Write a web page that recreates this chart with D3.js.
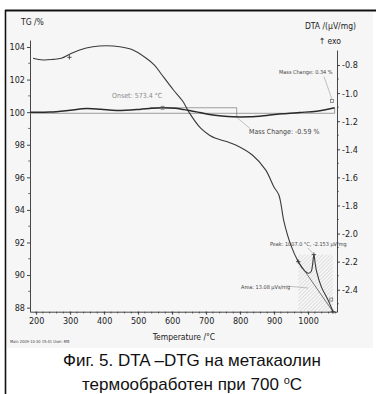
<!DOCTYPE html>
<html>
<head>
<meta charset="utf-8">
<script src="https://cdn.jsdelivr.net/npm/d3@7"></script>
<style>
  html, body { margin: 0; padding: 0; background: #fff; }
  svg { display: block; }
  .axis text { font-family: "Liberation Sans Narrow", "DejaVu Sans Condensed", sans-serif; font-size: 9px; fill: #222; }
  .axis path, .axis line { stroke: #333; stroke-width: 0.9; }
  .note { font-family: "Liberation Sans Narrow", "DejaVu Sans Condensed", sans-serif; font-size: 6.5px; fill: #444; }
  .title { font-family: "Liberation Sans Narrow", "DejaVu Sans Condensed", sans-serif; font-size: 8.5px; fill: #222; }
  .caption { font-family: "Liberation Sans", Arial, sans-serif; font-size: 17px; fill: #111; }
</style>
</head>
<body>
<div id="chart"></div>
<script>
// tick values
var tempTicks = [200, 300, 400, 500, 600, 700, 800, 900, 1000];
var tgTicks = [88, 90, 92, 94, 96, 98, 100, 102, 104];
var dtaTicks = [-0.8, -1.0, -1.2, -1.4, -1.6, -1.8, -2.0, -2.2, -2.4];

// DTA curve (right axis)
var dtaTemp = [191, 220, 250, 274, 300, 328, 367, 406, 446, 485, 524, 548, 568, 604, 632, 648, 684, 710, 728, 760, 787, 836, 875, 899, 914, 929, 949, 971, 986, 1001, 1009, 1013, 1017, 1021, 1025, 1039, 1058, 1073];
var dtaValue = [-0.752, -0.764, -0.760, -0.752, -0.722, -0.693, -0.670, -0.663, -0.670, -0.693, -0.752, -0.80, -0.864, -0.978, -1.06, -1.13, -1.25, -1.30, -1.322, -1.345, -1.369, -1.441, -1.547, -1.666, -1.725, -1.915, -2.081, -2.200, -2.255, -2.283, -2.27, -2.225, -2.150, -2.215, -2.270, -2.380, -2.470, -2.556];

// TG curve (left axis)
var tgTemp = [182, 240, 300, 349, 390, 437, 504, 540, 572, 610, 631, 651, 681, 710, 746, 778, 828, 878, 925, 975, 1025, 1078];
var tgValue = [100.00, 100.01, 100.12, 100.23, 100.18, 100.10, 100.17, 100.24, 100.27, 100.24, 100.17, 100.10, 99.98, 99.86, 99.77, 99.72, 99.72, 99.80, 99.90, 99.98, 100.06, 100.27];

// evaluation marks
var peakPoints = [[971, -2.200], [1017, -2.150], [1073, -2.556]];
var massLevels = [100.27, 99.93, 99.68];

var width = 376, height = 394;
var svg = d3.select("#chart").append("svg")
    .attr("width", width)
    .attr("height", height);

var defs = svg.append("defs");
var hatch = defs.append("pattern")
    .attr("id", "hatch")
    .attr("patternUnits", "userSpaceOnUse")
    .attr("width", 2.6)
    .attr("height", 2.6)
    .attr("patternTransform", "rotate(45)");
hatch.append("line")
    .attr("x1", 0).attr("y1", 0).attr("x2", 0).attr("y2", 2.6)
    .attr("stroke", "#aaa").attr("stroke-width", 0.6);

// scanned picture background + frame
svg.append("rect").attr("x", 7).attr("y", 12).attr("width", 366).attr("height", 336).attr("fill", "#f6f6f6");
svg.append("line").attr("x1", 5).attr("y1", 10.5).attr("x2", 376).attr("y2", 10.5).attr("stroke", "#111").attr("stroke-width", 1.8);
svg.append("line").attr("x1", 5.5).attr("y1", 10).attr("x2", 5.5).attr("y2", 394).attr("stroke", "#111").attr("stroke-width", 1.6);

var x = d3.scaleLinear().domain([182, 1085]).range([30, 337]);
var yTG = d3.scaleLinear().domain([104.43, 87.75]).range([40, 311.7]);
var yDTA = d3.scaleLinear().domain([-0.693, -2.5565]).range([50, 311.7]);

// minor ticks
var minor = svg.append("g").attr("stroke", "#333").attr("stroke-width", 0.7);
minor.selectAll(".mx").data(d3.range(200, 1081, 20)).enter().append("line")
    .attr("x1", function(d) { return x(d); }).attr("x2", function(d) { return x(d); })
    .attr("y1", 311.7).attr("y2", 313.5);
minor.selectAll(".ml").data(d3.range(89, 104, 2)).enter().append("line")
    .attr("x1", 28.2).attr("x2", 30)
    .attr("y1", function(d) { return yTG(d); }).attr("y2", function(d) { return yTG(d); });
minor.selectAll(".mr").data(d3.range(-0.9, -2.6, -0.2)).enter().append("line")
    .attr("x1", 337).attr("x2", 338.8)
    .attr("y1", function(d) { return yDTA(d); }).attr("y2", function(d) { return yDTA(d); });

svg.append("g").attr("class", "axis")
    .attr("transform", "translate(0,311.7)")
    .call(d3.axisBottom(x).tickValues(tempTicks).tickSize(3).tickSizeOuter(0).tickPadding(3)
        .tickFormat(d3.format("d")));
svg.append("g").attr("class", "axis")
    .attr("transform", "translate(30,0)")
    .call(d3.axisLeft(yTG).tickValues(tgTicks).tickSize(3).tickSizeOuter(0).tickPadding(2));
svg.append("g").attr("class", "axis")
    .attr("transform", "translate(337,0)")
    .call(d3.axisRight(yDTA).tickValues(dtaTicks).tickSize(3).tickSizeOuter(0).tickPadding(2)
        .tickFormat(function(d) { return d.toFixed(1); }));

svg.append("text").attr("class", "title").attr("x", 21).attr("y", 25).text("TG /%");
svg.append("text").attr("class", "title").attr("x", 356).attr("y", 29).attr("text-anchor", "end").text("DTA /(μV/mg)");
svg.append("text").attr("class", "title").attr("x", 341).attr("y", 44).attr("text-anchor", "end").text("↑ exo");
svg.append("text").attr("class", "title").attr("x", 184).attr("y", 340).attr("text-anchor", "middle").text("Temperature /°C");
svg.append("text").attr("class", "note").attr("x", 10).attr("y", 343).style("font-size", "4px").text("Main 2009-10-30 15:41  User: MB");

// mass change step lines
var ref = svg.append("g").attr("stroke", "#777").attr("stroke-width", 0.7).attr("fill", "none");
ref.append("line").attr("x1", x(182)).attr("x2", x(1078)).attr("y1", yTG(massLevels[1])).attr("y2", yTG(massLevels[1]));
ref.append("line").attr("x1", x(534)).attr("x2", x(790)).attr("y1", yTG(massLevels[0])).attr("y2", yTG(massLevels[0]));
ref.append("line").attr("x1", x(790)).attr("x2", x(790)).attr("y1", yTG(massLevels[0])).attr("y2", yTG(massLevels[2]));
ref.append("line").attr("x1", x(1078)).attr("x2", x(1078)).attr("y1", yTG(massLevels[1])).attr("y2", yTG(massLevels[0]));

// peak area
var p0 = peakPoints[0], p1 = peakPoints[1], p2 = peakPoints[2];
svg.append("rect")
    .attr("x", x(p0[0])).attr("y", yDTA(p1[1]))
    .attr("width", x(p2[0]) - x(p0[0])).attr("height", 311.7 - yDTA(p1[1]))
    .attr("fill", "url(#hatch)");
svg.append("line")
    .attr("x1", x(p0[0])).attr("y1", yDTA(p0[1])).attr("x2", x(p2[0])).attr("y2", yDTA(p2[1]))
    .attr("stroke", "#555").attr("stroke-width", 0.8);

// curves
var dtaLine = d3.line()
    .x(function(d, i) { return x(dtaTemp[i]); })
    .y(function(d, i) { return yDTA(dtaValue[i]); })
    .curve(d3.curveCatmullRom.alpha(0.5));
svg.append("path").datum(dtaTemp).attr("d", dtaLine)
    .attr("fill", "none").attr("stroke", "#3a3a3a").attr("stroke-width", 1.1);

var tgLine = d3.line()
    .x(function(d, i) { return x(tgTemp[i]); })
    .y(function(d, i) { return yTG(tgValue[i]); })
    .curve(d3.curveCatmullRom.alpha(0.5));
svg.append("path").datum(tgTemp).attr("d", tgLine)
    .attr("fill", "none").attr("stroke", "#2a2a2a").attr("stroke-width", 1.5);

// markers
var marks = svg.append("g").attr("stroke", "#333").attr("stroke-width", 0.8);
peakPoints.concat([[298, -0.745]]).forEach(function(p) {
    var cx = x(p[0]), cy = yDTA(p[1]);
    marks.append("path").attr("d", "M" + (cx - 2.2) + "," + cy + "H" + (cx + 2.2) + "M" + cx + "," + (cy - 2.2) + "V" + (cy + 2.2));
});
[[572, 100.27, yTG], [1068, -2.47, yDTA]].forEach(function(p) {
    marks.append("rect").attr("x", x(p[0]) - 1.5).attr("y", p[2](p[1]) - 1.5)
        .attr("width", 3).attr("height", 3).attr("fill", "none").attr("stroke", "#777");
});
marks.append("rect").attr("x", x(1070) - 1.5).attr("y", yTG(100.68) - 1.5)
    .attr("width", 3).attr("height", 3).attr("fill", "none").attr("stroke", "#777");

// annotations
var lead = svg.append("g").attr("stroke", "#888").attr("stroke-width", 0.5);
lead.append("line").attr("x1", x(790)).attr("y1", yTG(99.68)).attr("x2", 250).attr("y2", 128.5);
lead.append("line").attr("x1", 324).attr("y1", 76.5).attr("x2", x(1070)).attr("y2", yTG(100.68) - 2);
lead.append("line").attr("x1", 308).attr("y1", 248).attr("x2", x(p1[0])).attr("y2", yDTA(p1[1]));
lead.append("line").attr("x1", 286).attr("y1", 286).attr("x2", 308).attr("y2", 288);

svg.append("text").attr("class", "note").attr("x", 112).attr("y", 97.5).style("fill", "#8a8a8a").style("font-size", "7px").text("Onset: 573.4 °C");
svg.append("text").attr("class", "note").attr("x", 249).attr("y", 133.5).style("font-size", "7px").text("Mass Change: -0.59 %");
svg.append("text").attr("class", "note").attr("x", 279).attr("y", 73.5).style("font-size", "5.5px").text("Mass Change: 0.34 %");
svg.append("text").attr("class", "note").attr("x", 270).attr("y", 246).style("font-size", "5.5px").text("Peak: 1007.0 °C, -2.153 μV/mg");
svg.append("text").attr("class", "note").attr("x", 241).attr("y", 288.5).style("font-size", "5.5px").text("Area: 13.08 μVs/mg");

// caption
svg.append("text").attr("class", "caption")
    .attr("x", 192).attr("y", 366).attr("text-anchor", "middle")
    .text("Фиг. 5. DTA –DTG на метакаолин");
var cap2 = svg.append("text").attr("class", "caption")
    .attr("x", 192).attr("y", 390).attr("text-anchor", "middle");
cap2.append("tspan").text("термообработен при 700 ");
cap2.append("tspan").attr("dy", -6).style("font-size", "11px").text("o");
cap2.append("tspan").attr("dy", 6).text("C");
</script>
</body>
</html>
